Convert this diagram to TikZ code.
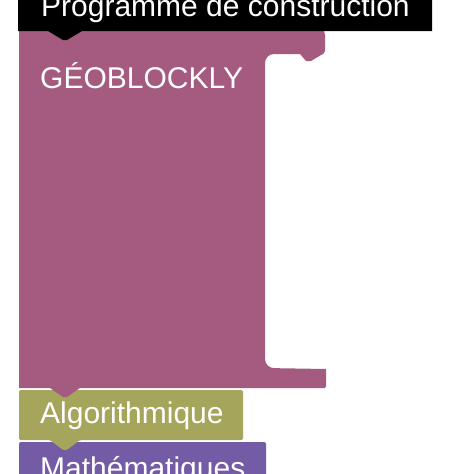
\documentclass[tikz,border=0pt]{standalone}
\usepackage{fontspec}
\setmainfont{Liberation Sans}
\definecolor{geopink}{RGB}{165,91,127}
\definecolor{algogreen}{RGB}{165,165,91}
\definecolor{mathpurple}{RGB}{116,91,165}
\tikzset{
  blocktext/.style={anchor=base west, inner sep=0pt, text=white, font=\fontsize{30}{36}\selectfont},
}
\begin{document}
\begin{tikzpicture}[x=1pt, y=-1pt]
\useasboundingbox (0,0) rectangle (474,474);
\clip (0,0) rectangle (474,474);
\fill[white] (0,0) rectangle (474,474);
% Mathématiques block
\fill[mathpurple, rounded corners=2pt] (19,442) -- (266,442) -- (266,490) -- (19,490) -- cycle;
% Algorithmique block
\fill[algogreen, rounded corners=1.5pt] (19,390) -- (243,390) -- (243,440) -- (80,440)
  -- (67,450) -- (63,450) -- (50,440) -- (19,440) -- cycle;
% GEOBLOCKLY block (C-shaped)
\fill[geopink] (19,31) -- (324,31) [rounded corners=2pt] -- (325,33) -- (325,53) [sharp corners]
  -- (321,55) -- (311,61) -- (306,61) -- (300,54) [rounded corners=9pt] -- (265,54) -- (265,368)
  [sharp corners] -- (326,369) [rounded corners=1.5pt] -- (326,388) [sharp corners] -- (80,388)
  -- (67,397) -- (63,397) -- (50,388) -- (19,388) -- cycle;
% header block
\fill[black] (18,-5) -- (432,-5) -- (432,31) -- (82,31) -- (67,40) -- (63,40) -- (48,31) -- (18,31) -- cycle;
% texts
\node[blocktext] (prog) at (41,16) {Programme de construction};
\node[blocktext] (geo) at (40,88) {GÉOBLOCKLY};
\node[blocktext] (algo) at (40,423) {Algorithmique};
\node[blocktext] (math) at (40,478) {Mathématiques};
\end{tikzpicture}
\end{document}
